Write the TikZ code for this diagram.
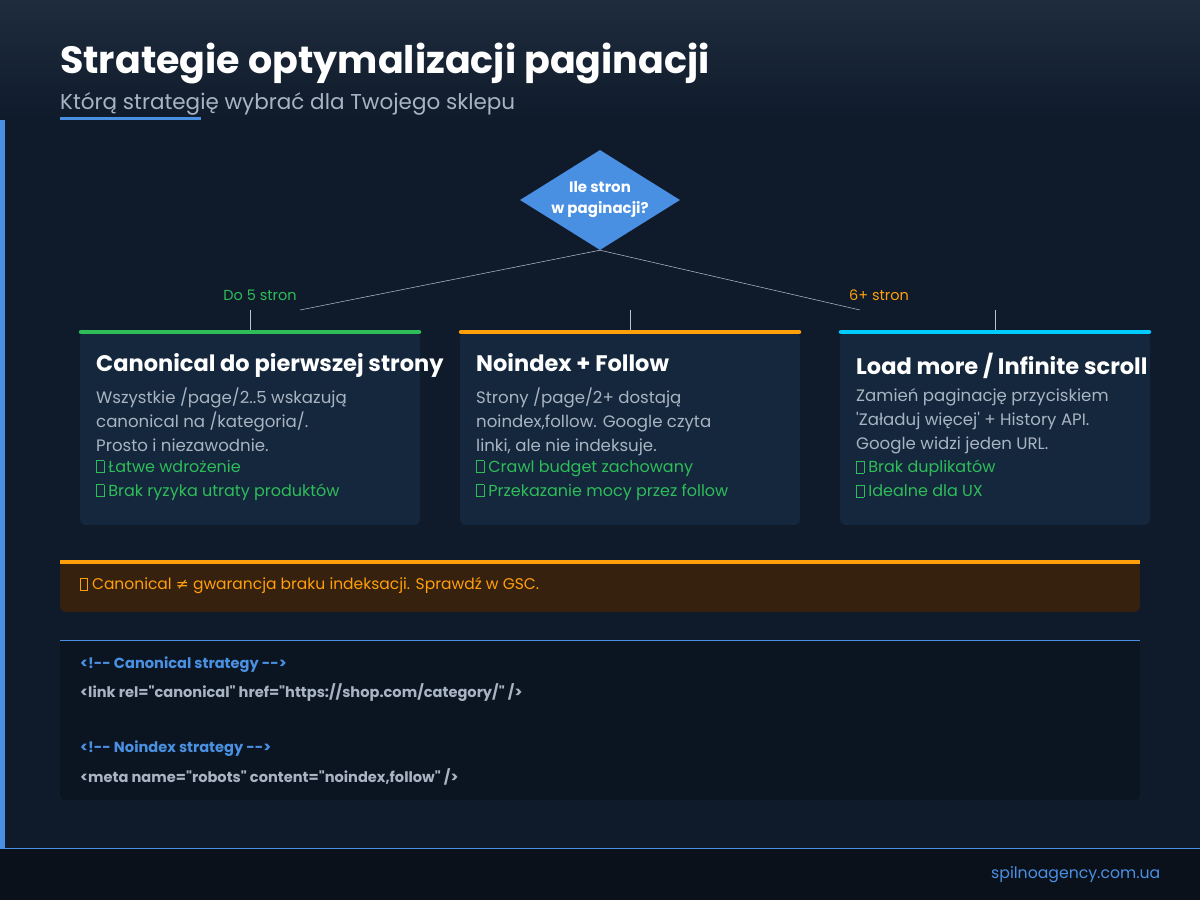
\documentclass[tikz,border=0pt]{standalone}
\usepackage{fontspec}
\defaultfontfeatures{}
\defaultfontfeatures[\rmfamily]{}
\setmainfont{Poppins}[Ligatures=ResetAll]
\newfontfamily\plain{Poppins}[Ligatures=ResetAll]
\newfontfamily\dejavu{DejaVu Sans}
\usetikzlibrary{shapes.geometric}
\definecolor{bg}{HTML}{0F1B2B}
\definecolor{hdr}{HTML}{1F2C3D}
\definecolor{card}{HTML}{15273D}
\definecolor{blu}{HTML}{4A90E2}
\definecolor{grn}{HTML}{2EBD59}
\definecolor{org}{HTML}{FF9F0A}
\definecolor{cyn}{HTML}{00CCFF}
\definecolor{gry}{HTML}{A9B4C2}
\definecolor{warnbg}{HTML}{36200E}
\definecolor{codebg}{HTML}{0B1522}
\definecolor{foot}{HTML}{0A111B}
\newcommand\tofu{{\fboxsep0pt\fboxrule0.6pt\fbox{\rule{0pt}{0.72em}\hspace{0.42em}}}}
\tikzset{
 cardbox/.style={fill=card,rounded corners=6pt},
 cardtitle/.style={anchor=north west,text=white,font=\fontsize{22.5}{26}\selectfont\bfseries,inner sep=0},
 cardtext/.style={anchor=north west,text=gry,font=\plain\fontsize{16.6}{24}\selectfont,inner sep=0,align=left},
 pro/.style={anchor=north west,text=grn,font=\fontsize{16}{24}\selectfont,inner sep=0,align=left},
 code/.style={anchor=west,text=gry,font=\plain\fontsize{14.6}{16}\selectfont\bfseries,inner sep=0},
 link/.style={draw=gry!80,line width=0.5pt}
}
\begin{document}
\begin{tikzpicture}[x=1pt,y=-1pt]
\useasboundingbox (0,0) rectangle (1200,900);
\fill[bg] (0,0) rectangle (1200,900);
\shade[top color=hdr,bottom color=bg] (0,0) rectangle (1200,120);
\fill[blu] (0,120) rectangle (5,848);
\fill[foot] (0,848) rectangle (1200,900);
\draw[blu,line width=0.8pt] (0,848) -- (1200,848);
\node[anchor=west,text=blu,font=\fontsize{15.7}{18}\selectfont,inner sep=0] (foottxt) at (991,875) {spilnoagency.com.ua};
% title
\node[anchor=west,text=white,font=\fontsize{38}{42}\selectfont\bfseries,inner sep=0] (title) at (60,64) {Strategie optymalizacji paginacji};
\node[anchor=west,text=gry,font=\fontsize{21.5}{24}\selectfont,inner sep=0] (sub) at (60,104) {Którą strategię wybrać dla Twojego sklepu};
\fill[blu] (60,117) rectangle (201,120);
% diamond
\node[diamond,fill=blu,minimum width=160pt,minimum height=100pt,inner sep=0] (q) at (600,200) {};
\node[text=white,align=center,font=\fontsize{15}{21}\selectfont\bfseries,inner sep=0] (qt) at (q.center) {Ile stron\\w paginacji?};
\coordinate (l1) at (300,310);
\coordinate (r1) at (860,310);
\draw[link] (q.south) -- (l1);
\draw[link] (q.south) -- (r1);
\node[text=grn,font=\fontsize{14.5}{16}\selectfont,inner sep=0] (lab1) at (260,295) {Do 5 stron};
\node[text=org,font=\fontsize{14.5}{16}\selectfont,inner sep=0] (lab2) at (879,295) {6+ stron};
% cards
\foreach \x/\w/\c/\n in {80/340/grn/a,460/340/org/b,840/310/cyn/c}{
 \fill[cardbox] (\x,332) rectangle ++(\w,193);
 \draw[\c,line width=4.5pt,line cap=round] (\x+1,332) -- ++(\w-2,0);
}
\foreach \cx in {250,630,995}{\draw[link] (\cx,310) -- (\cx,330);}
\node[cardtitle] (ta) at (96,353) {Canonical do pierwszej strony};
\node[cardtitle] (tb) at (476,353) {Noindex + Follow};
\node[cardtitle] (tc) at (856,353) {Load more / Infinite scroll};
\node[cardtext] (xa) at (96,388) {Wszystkie /page/2..5 wskazują\\canonical na /kategoria/.\\Prosto i niezawodnie.};
\node[cardtext] (xb) at (476,388) {Strony /page/2+ dostają\\noindex,follow. Google czyta\\linki, ale nie indeksuje.};
\node[cardtext] (xc) at (856,388) {Zamień paginację przyciskiem\\\symbol{39}Załaduj więcej\symbol{39} + History API.\\Google widzi jeden URL.};
\node[pro] (pa) at (96,460) {\tofu\ Łatwe wdrożenie\\\tofu\ Brak ryzyka utraty produktów};
\node[pro] (pb) at (476,460) {\tofu\ Crawl budget zachowany\\\tofu\ Przekazanie mocy przez follow};
\node[pro] (pc) at (856,460) {\tofu\ Brak duplikatów\\\tofu\ Idealne dla UX};
% warning
\fill[warnbg,rounded corners=6pt] (60,562) rectangle (1140,612);
\draw[org,line width=4pt] (60,562) -- (1140,562);
\node[anchor=west,text=org,font=\fontsize{15.5}{18}\selectfont,inner sep=0] (warn) at (80,586) {\tofu\ Canonical {\dejavu ≠} gwarancja braku indeksacji. Sprawdź w GSC.};
% code
\fill[codebg,rounded corners=6pt] (60,640) rectangle (1140,800);
\fill[codebg] (60,640) rectangle (1140,660);
\draw[blu,line width=0.8pt] (60,640) -- (1140,640);
\node[code,text=blu] (c1) at (80,665) {<!-{}- Canonical strategy -{}->};
\node[code] (c2) at (80,693) {<link rel=\symbol{34}canonical\symbol{34} href=\symbol{34}https://shop.com/category/\symbol{34} />};
\node[code,text=blu] (c3) at (80,749) {<!-{}- Noindex strategy -{}->};
\node[code] (c4) at (80,777) {<meta name=\symbol{34}robots\symbol{34} content=\symbol{34}noindex,follow\symbol{34} />};
\end{tikzpicture}
\end{document}
